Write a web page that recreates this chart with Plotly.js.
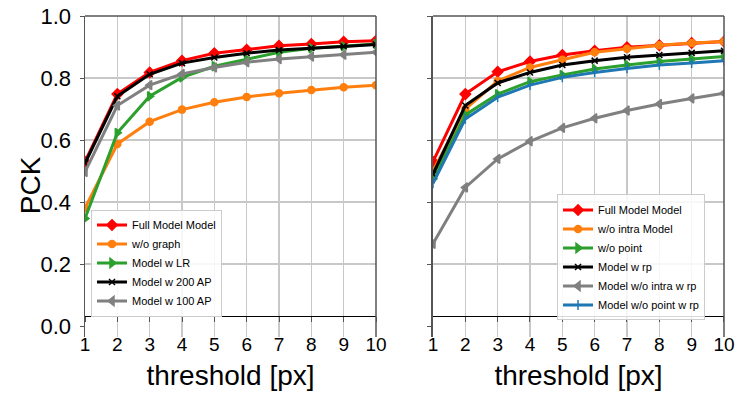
<!DOCTYPE html>
<html>
<head>
<meta charset="utf-8">
<script src="https://cdn.plot.ly/plotly-3.0.1.min.js"></script>
<style>
  html, body { margin: 0; padding: 0; background: #fff; }
  #chart { width: 748px; height: 399px; }
</style>
</head>
<body>
<div id="chart"></div>
<script>
// thresholds in px
const thresholds = [1, 2, 3, 4, 5, 6, 7, 8, 9, 10];

// left panel
const fullModelL = [0.53, 0.748, 0.818, 0.856, 0.880, 0.891, 0.904, 0.910, 0.917, 0.920];
const woGraph    = [0.38, 0.587, 0.659, 0.698, 0.722, 0.739, 0.751, 0.761, 0.770, 0.777];
const modelLR    = [0.347, 0.623, 0.741, 0.802, 0.838, 0.861, 0.883, 0.896, 0.902, 0.910];
const model200AP = [0.525, 0.741, 0.812, 0.848, 0.866, 0.880, 0.890, 0.897, 0.902, 0.908];
const model100AP = [0.497, 0.711, 0.777, 0.813, 0.834, 0.851, 0.861, 0.869, 0.875, 0.883];

// right panel
const fullModelR   = [0.53, 0.748, 0.820, 0.853, 0.874, 0.888, 0.899, 0.906, 0.913, 0.918];
const woIntra      = [0.50, 0.700, 0.790, 0.834, 0.859, 0.883, 0.894, 0.906, 0.913, 0.918];
const woPoint      = [0.475, 0.681, 0.748, 0.788, 0.810, 0.829, 0.842, 0.853, 0.861, 0.869];
const modelRp      = [0.49, 0.711, 0.784, 0.818, 0.842, 0.856, 0.867, 0.874, 0.881, 0.888];
const woIntraRp    = [0.265, 0.447, 0.539, 0.596, 0.639, 0.670, 0.695, 0.716, 0.734, 0.751];
const woPointRp    = [0.46, 0.668, 0.738, 0.777, 0.802, 0.818, 0.831, 0.842, 0.848, 0.856];

const yTicks = [0, 0.2, 0.4, 0.6, 0.8, 1.0];
const yTickText = ['0.0', '0.2', '0.4', '0.6', '0.8', '1.0'];

function series(y, name, color, symbol, size, side) {
    return {
        x: thresholds, y: y, name: name, mode: 'lines+markers',
        line: { color: color, width: 3 },
        marker: { color: color, symbol: symbol, size: size, line: { color: color, width: 1.5 } },
        xaxis: side === 'L' ? 'x' : 'x2',
        yaxis: side === 'L' ? 'y' : 'y2',
        legend: side === 'L' ? 'legend' : 'legend2'
    };
}

const traces = [
    series(fullModelL, 'Full Model Model', '#ff0000', 'diamond', 8, 'L'),
    series(woGraph, 'w/o graph', '#ff7f0e', 'circle', 7, 'L'),
    series(modelLR, 'Model w LR', '#2ca02c', 'triangle-right', 8, 'L'),
    series(model200AP, 'Model w 200 AP', '#000000', 'x-thin', 6, 'L'),
    series(model100AP, 'Model w 100 AP', '#808080', 'triangle-left', 8, 'L'),
    series(fullModelR, 'Full Model Model', '#ff0000', 'diamond', 8, 'R'),
    series(woIntra, 'w/o intra Model', '#ff7f0e', 'circle', 7, 'R'),
    series(woPoint, 'w/o point', '#2ca02c', 'triangle-right', 8, 'R'),
    series(modelRp, 'Model w rp', '#000000', 'x-thin', 6, 'R'),
    series(woIntraRp, 'Model w/o intra w rp', '#808080', 'triangle-left', 8, 'R'),
    series(woPointRp, 'Model w/o point w rp', '#1f77b4', 'line-ns', 7, 'R')
];

const font = 'Liberation Sans, Arial, sans-serif';
const gridColor = '#c8c8c8';

function xAxis(domain) {
    return {
        domain: domain, range: [1, 10], anchor: 'free',
        position: 0.065,
        tickvals: thresholds, ticks: 'outside', ticklen: 5, tickcolor: '#555',
        ticklabelstandoff: 6,
        showline: true, linecolor: '#000', linewidth: 1.3,
        showgrid: true, gridcolor: gridColor, gridwidth: 1.3, zeroline: false,
        tickfont: { family: font, size: 19, color: '#000' },
        title: { text: 'threshold [px]', font: { family: font, size: 28, color: '#000' }, standoff: 11 }
    };
}

function yAxis(anchorX, labels) {
    return {
        domain: [0, 1], range: [-0.0355, 1.0], anchor: anchorX,
        tickvals: yTicks, ticktext: yTickText, showticklabels: labels,
        ticks: 'outside', ticklen: 4, tickcolor: '#555',
        ticklabelstandoff: 4,
        showline: true, linecolor: '#555', linewidth: 1.5,
        showgrid: false, zeroline: false,
        minor: { tickmode: 'array', tickvals: [0.2, 0.4, 0.6, 0.8], showgrid: true, gridcolor: gridColor, gridwidth: 1.3, ticks: '' },
        tickfont: { family: font, size: 22, color: '#000' }
    };
}

const frame = [];
[['x', 'y'], ['x2', 'y2']].forEach(([xa, ya]) => {
    frame.push({ type: 'line', xref: xa + ' domain', yref: ya + ' domain', x0: 0, x1: 1, y0: 1, y1: 1, line: { color: '#555', width: 1.5 } });
    frame.push({ type: 'line', xref: xa + ' domain', yref: ya + ' domain', x0: 1, x1: 1, y0: 0, y1: 1, line: { color: '#555', width: 1.5 } });
});

const legendBase = {
    bgcolor: 'rgba(255,255,255,0.85)', bordercolor: '#cccccc', borderwidth: 1,
    font: { family: font, size: 11, color: '#000' },
    xanchor: 'left', yanchor: 'middle', itemwidth: 30, tracegroupgap: 0
};

const layout = {
    width: 748, height: 399,
    margin: { l: 85, r: 24, t: 16, b: 62 },
    paper_bgcolor: '#fff', plot_bgcolor: '#fff',
    showlegend: true,
    xaxis: xAxis([0, 0.4554]),
    xaxis2: xAxis([0.5446, 1]),
    yaxis: yAxis('x', true),
    yaxis2: yAxis('x2', false),
    legend: Object.assign({ x: 0.0094, y: 0.2305 }, legendBase),
    legend2: Object.assign({ x: 0.7387, y: 0.2477 }, legendBase),
    shapes: frame,
    // y title sits tight against the tick labels, as in the original figure
    annotations: [{
        text: 'PCK', textangle: -90, showarrow: false,
        xref: 'paper', yref: 'paper', x: -0.086, y: 0.473,
        xanchor: 'center', yanchor: 'middle',
        font: { family: font, size: 28, color: '#000' }
    }]
};

Plotly.newPlot('chart', traces, layout, { staticPlot: true });
</script>
</body>
</html>
